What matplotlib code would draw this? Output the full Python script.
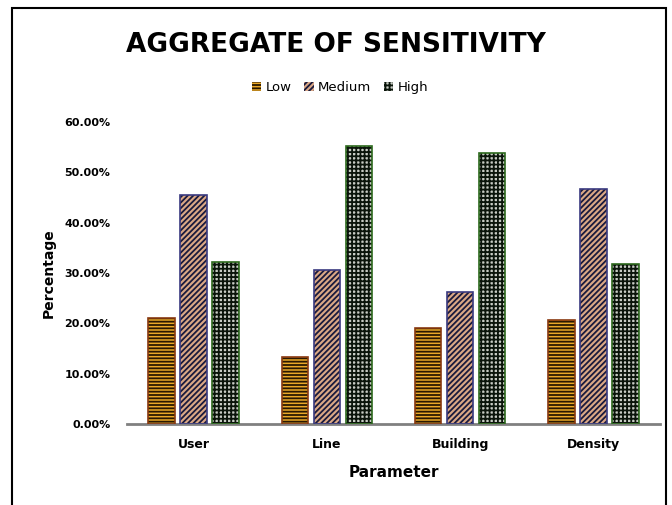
import numpy as np
import matplotlib
matplotlib.use("Agg")
import matplotlib.pyplot as plt
from matplotlib.patches import Rectangle

categories = ["User", "Line", "Building", "Density"]
series = ["Low", "Medium", "High"]
low = [0.211, 0.133, 0.191, 0.207]
medium = [0.455, 0.306, 0.262, 0.467]
high = [0.322, 0.553, 0.539, 0.318]
yticks = [0.0, 0.1, 0.2, 0.3, 0.4, 0.5, 0.6]

plt.rcParams['hatch.linewidth'] = 1.3

fig = plt.figure(figsize=(6.72, 5.05), dpi=100)
ax = fig.add_axes([127 / 672, 1 - 424 / 505, 533 / 672, (424 - 122) / 505])

# outer frame of the chart area
fig.patches.append(Rectangle((12 / 672, -0.05), 654 / 672, 1.05 - 8 / 505,
                             transform=fig.transFigure, fill=False,
                             edgecolor='black', linewidth=1.5))

x = np.arange(len(categories))
w = 0.2
off = 0.24

styles = [
    # face, hatch colour, hatch, border
    ("#eaa828", "#2a1800", "-----", "#8a3a10"),
    ("#dba886", "#1a1a3c", "//////", "#3a3a80"),
    ("#c8ccc4", "#0a140a", "++++", "#2d6a1e"),
]
handles = []
for i, (vals, name) in enumerate(zip([low, medium, high], series)):
    face, hc, hatch, border = styles[i]
    b = ax.bar(x + (i - 1) * off, vals, w, color=face, edgecolor=hc,
               hatch=hatch, linewidth=0, label=name, zorder=2)
    ax.bar(x + (i - 1) * off, vals, w, fill=False, edgecolor=border,
           linewidth=1.2, zorder=3)
    handles.append(b)

ax.set_xlim(-0.5, len(categories) - 0.5)
ax.set_ylim(0, 0.6)
ax.set_yticks(yticks)
ax.set_yticklabels(["%.2f%%" % (v * 100) for v in yticks],
                   fontsize=8, fontweight='bold')
ax.set_xticks(x)
ax.set_xticklabels(categories, fontsize=9, fontweight='bold')
ax.tick_params(length=0, pad=10)
ax.tick_params(axis='y', pad=12)

for s in ['top', 'right', 'left']:
    ax.spines[s].set_visible(False)
ax.spines['bottom'].set_color('#808080')
ax.spines['bottom'].set_linewidth(2)

ax.set_ylabel("Percentage", fontsize=10, fontweight='bold', labelpad=6)
ax.set_xlabel("Parameter", fontsize=11, fontweight='bold', labelpad=10)

fig.text(0.5, 1 - 45 / 505, "AGGREGATE OF SENSITIVITY", ha='center',
         va='center', fontsize=19, fontweight='bold')

fig.legend(handles=handles, loc='center', bbox_to_anchor=(340 / 672, 1 - 88 / 505),
           ncol=3, frameon=False, fontsize=9.5, handlelength=0.7, handleheight=0.7,
           handletextpad=0.3, columnspacing=1.0)

fig.savefig("out.png", dpi=100)
